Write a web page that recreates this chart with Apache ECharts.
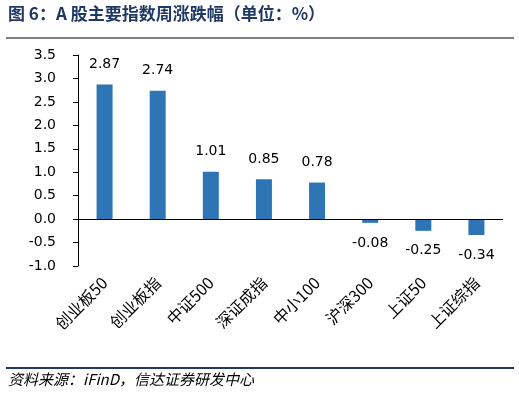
<!DOCTYPE html>
<html><head><meta charset="utf-8">
<script src="https://cdn.jsdelivr.net/npm/echarts@6/dist/echarts.min.js"></script>
<style>html,body{margin:0;padding:0;background:#fff}#c{width:519px;height:394px}</style>
</head><body><div id="c"></div>
<script>
const categories = ['创业板50','创业板指','中证500','深证成指','中小100','沪深300','上证50','上证综指'];
const values = [2.87, 2.74, 1.01, 0.85, 0.78, -0.08, -0.25, -0.34];
const titleText = '图 6：A 股主要指数周涨跌幅（单位：%）';
const sourceText = '资料来源：iFinD，信达证券研发中心';

const fam = '"DejaVu Sans", "Noto Sans CJK SC", sans-serif';
const chart = echarts.init(document.getElementById('c'), null, {renderer:'canvas'});
chart.setOption({
  animation:false,
  backgroundColor:'#fff',
  graphic:[
    {type:'text', left:8, top:5, style:{text:titleText, font:'bold 17px "Noto Sans CJK SC", sans-serif', fill:'#1f3864'}},
    {type:'rect', shape:{x:6, y:37, width:508, height:2}, style:{fill:'#7f7f7f'}},
    {type:'rect', shape:{x:6, y:367, width:508, height:2}, style:{fill:'#1f3864'}},
    {type:'text', left:8, top:372, style:{text:sourceText, font:'italic 15px "Noto Sans CJK SC", sans-serif', fill:'#000'}}
  ],
  grid:{left:78, right:16, top:55, bottom:128},
  xAxis:{type:'category', data:categories, position:'bottom',
    axisLine:{show:false}, axisTick:{show:false},
    axisLabel:{rotate:45, margin:14, fontSize:16, color:'#000', fontFamily:'"Noto Sans CJK SC", sans-serif', interval:0}},
  yAxis:{type:'value', min:-1, max:3.5, interval:0.5,
    axisLine:{show:true, lineStyle:{color:'#000', width:1}},
    axisTick:{show:true, inside:false, length:5, lineStyle:{color:'#000'}},
    splitLine:{show:false},
    axisLabel:{fontSize:14, color:'#000', fontFamily:fam, margin:22, formatter:v=>v.toFixed(1)}},
  series:[{type:'bar', barWidth:16,
    data:values.map(v=>({value:v, label:{position: v<0?'bottom':'top'}})),
    itemStyle:{color:'#2e75b6'},
    label:{show:true, fontSize:14, color:'#000', fontFamily:fam, distance:13,
      formatter:p=>p.value.toFixed(2)},
    markLine:{silent:true, symbol:'none', label:{show:false}, lineStyle:{color:'#000', width:1, type:'solid'}, data:[{yAxis:0}]}
  }]
});
</script></body></html>
